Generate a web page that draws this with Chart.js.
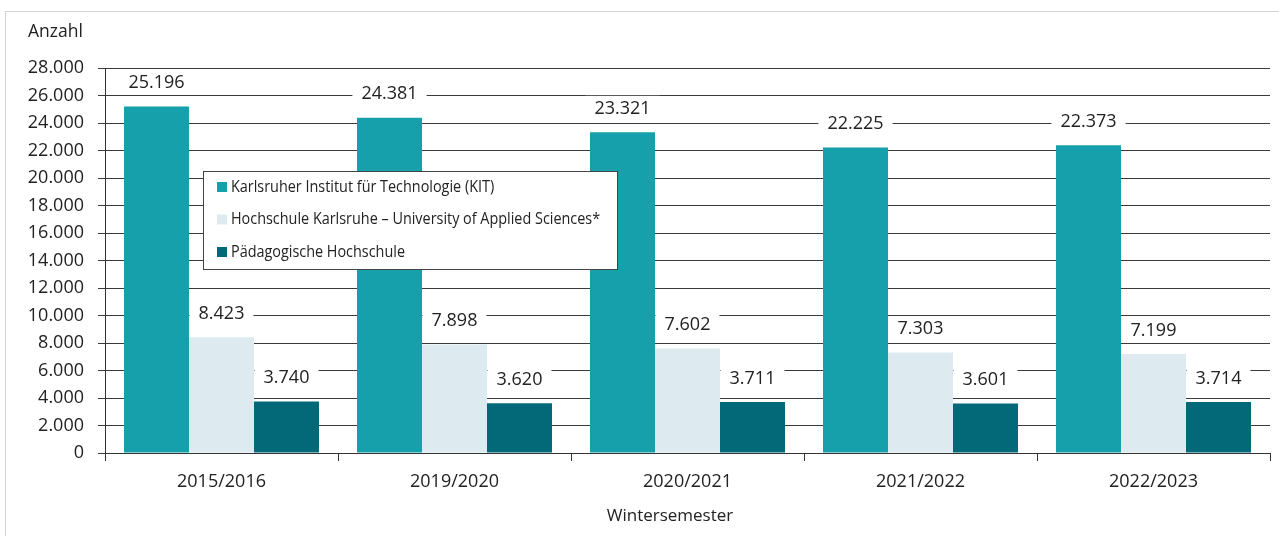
<!DOCTYPE html>
<html><head><meta charset="utf-8">
<script src="https://cdn.jsdelivr.net/npm/chart.js@4.4.1/dist/chart.umd.min.js"></script>
<style>
html,body{margin:0;padding:0;background:#fff;}
#wrap{position:relative;width:1279px;height:536px;overflow:hidden;}
#frame{position:absolute;left:5px;top:11px;width:1300px;height:600px;border-top:1px solid #d4d4d4;border-left:1px solid #d4d4d4;}
canvas{position:absolute;left:0;top:0;}
</style></head>
<body><div id="wrap"><div id="frame"></div><canvas id="c" width="1279" height="536"></canvas></div>
<script>
const categories = ['2015/2016','2019/2020','2020/2021','2021/2022','2022/2023'];
const seriesLabels = ['Karlsruher Institut für Technologie (KIT)','Hochschule Karlsruhe – University of Applied Sciences*','Pädagogische Hochschule'];
const kitValues = [25196,24381,23321,22225,22373];
const hsValues = [8423,7898,7602,7303,7199];
const phValues = [3740,3620,3711,3601,3714];
const yTitle = 'Anzahl';
const xTitle = 'Wintersemester';
const yMax = 28000, yStep = 2000;
const colors = ['#15a0ab','#ddebf0','#036878'];

const FONT = 'Open Sans';
const fmt = v => String(v).replace(/\B(?=(\d{3})+(?!\d))/g, '.');

const textPlugin = {
  id:'texts',
  afterDraw(chart){
    const ctx=chart.ctx; ctx.save();
    ctx.fillStyle='#222'; ctx.font='17.5px "'+FONT+'"'; ctx.textBaseline='middle';
    ctx.textAlign='left'; ctx.fillText(yTitle,28,32);
    ctx.font='17px "'+FONT+'"';
    ctx.textAlign='center'; ctx.fillText(xTitle,670,516);
    // legend
    const lx=203.5, ly=171.5, lw=414, lh=98;
    ctx.fillStyle='#fff'; ctx.fillRect(lx,ly,lw,lh);
    ctx.strokeStyle='#444'; ctx.lineWidth=1; ctx.strokeRect(lx,ly,lw,lh);
    ctx.font='16px "'+FONT+'"'; ctx.textAlign='left';
    chart.data.datasets.forEach((ds,i)=>{
      const cy=187+i*32.5;
      ctx.fillStyle=ds.backgroundColor; ctx.fillRect(217,cy-5,10,10);
      ctx.fillStyle='#222';
      ctx.save(); ctx.translate(231,cy); ctx.scale(0.9,1); ctx.fillText(ds.label,0,0); ctx.restore();
    });
    ctx.restore();
  },
  afterDatasetsDraw(chart){
    const ctx=chart.ctx; ctx.save();
    ctx.font='18px "'+FONT+'"'; ctx.textAlign='center'; ctx.textBaseline='middle';
    chart.data.datasets.forEach((ds,i)=>{
      chart.getDatasetMeta(i).data.forEach((el,j)=>{
        const t=fmt(ds.data[j]); const w=ctx.measureText(t).width;
        const cx=el.x, cy=el.y-24.5;
        ctx.fillStyle='#fff'; ctx.fillRect(cx-w/2-9,cy-12,w+18,24);
        ctx.fillStyle='#222'; ctx.fillText(t,cx,cy+1);
      });
    });
    ctx.restore();
  }
};

new Chart(document.getElementById('c'),{
  type:'bar',
  data:{labels:categories,datasets:[
    {label:seriesLabels[0],data:kitValues,backgroundColor:colors[0]},
    {label:seriesLabels[1],data:hsValues,backgroundColor:colors[1]},
    {label:seriesLabels[2],data:phValues,backgroundColor:colors[2]}
  ]},
  options:{
    responsive:false,animation:false,devicePixelRatio:1,
    categoryPercentage:0.837,barPercentage:1,
    layout:{padding:{left:0,right:9,top:68,bottom:0}},
    plugins:{legend:{display:false},tooltip:{enabled:false}},
    scales:{
      x:{
        grid:{offset:true,drawOnChartArea:false,drawTicks:true,tickLength:8,color:'#333',lineWidth:1},
        border:{color:'#333',width:1},
        ticks:{color:'#222',font:{family:FONT,size:18},padding:10},
        afterFit(s){s.height=83;}
      },
      y:{
        min:0,max:yMax,
        grid:{color:'#3a3a3a',lineWidth:1,tickLength:7},
        border:{color:'#333',width:1},
        ticks:{stepSize:yStep,color:'#222',font:{family:FONT,size:18},padding:14,callback:v=>fmt(v)},
        afterFit(s){s.width=105;}
      }
    }
  },
  plugins:[textPlugin]
});
</script></body></html>
